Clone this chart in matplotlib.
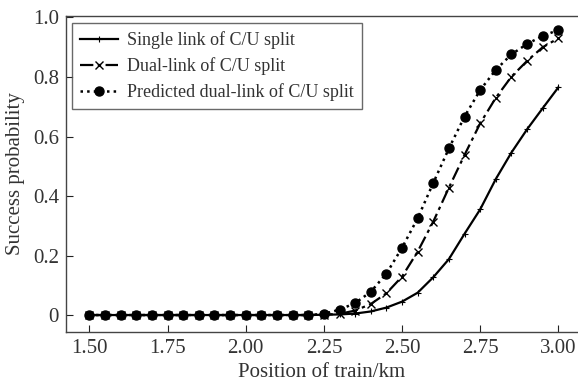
import numpy as np
import matplotlib
matplotlib.use("Agg")
import matplotlib.pyplot as plt

plt.rcParams['font.family'] = ['Liberation Serif', 'DejaVu Serif']
plt.rcParams['mathtext.fontset'] = 'stix'

x = [1.50, 1.55, 1.60, 1.65, 1.70, 1.75, 1.80, 1.85, 1.90, 1.95, 2.00, 2.05,
     2.10, 2.15, 2.20, 2.25, 2.30, 2.35, 2.40, 2.45, 2.50, 2.55, 2.60, 2.65,
     2.70, 2.75, 2.80, 2.85, 2.90, 2.95, 3.00]

single = [0, 0, 0, 0, 0, 0, 0, 0, 0, 0, 0, 0,
          0, 0, 0, 0.001, 0.002, 0.005, 0.012, 0.025, 0.045, 0.075, 0.127, 0.188,
          0.273, 0.355, 0.457, 0.546, 0.624, 0.695, 0.765]

dual = [0, 0, 0, 0, 0, 0, 0, 0, 0, 0, 0, 0,
        0, 0, 0, 0.001, 0.004, 0.015, 0.037, 0.073, 0.129, 0.213, 0.314, 0.428,
        0.538, 0.644, 0.730, 0.801, 0.854, 0.900, 0.930]

predicted = [0, 0, 0, 0, 0, 0, 0, 0, 0, 0, 0, 0,
             0, 0, 0, 0.004, 0.018, 0.040, 0.078, 0.139, 0.226, 0.325, 0.444, 0.560,
             0.667, 0.756, 0.824, 0.876, 0.911, 0.938, 0.958]

labels = ["Single link of C/U split", "Dual-link of C/U split",
          "Predicted dual-link of C/U split"]

xticks = [1.50, 1.75, 2.00, 2.25, 2.50, 2.75, 3.00]
xticklabels = ["1.50", "1.75", "2.00", "2.25", "2.50", "2.75", "3.00"]
yticks = [0, 0.2, 0.4, 0.6, 0.8, 1.0]
yticklabels = ["0", "0.2", "0.4", "0.6", "0.8", "1.0"]

fig = plt.figure(figsize=(5.78, 3.83), dpi=100)
ax_h = (331.7 - 16) / 383
ax_w = 1 - 66 / 578
ax = fig.add_axes([66/578, (383-331.7)/383, ax_w, ax_h])

ax.plot(x, single, '-', color='black', lw=1.6, marker='+', ms=5, mew=0.8,
        label=labels[0])
ax.plot(x, dual, color='black', lw=1.6, marker='x', ms=5.5, mew=1.0,
        linestyle=(0, (6, 2, 1.5, 2)), label=labels[1])
ax.plot(x, predicted, ':', color='black', lw=1.8, marker='o', ms=6.5,
        label=labels[2])

ax.set_xlim(1.425, 3.063)
ax.set_ylim(-0.056, 1.005)
ax.set_xticks(xticks)
ax.set_xticklabels(xticklabels)
ax.set_yticks(yticks)
ax.set_yticklabels(yticklabels)
ax.tick_params(direction='in', length=5, width=0.8, labelsize=15, colors='#222222',
               labelcolor='#333333', pad=5)
ax.spines['right'].set_visible(False)
for s in ['left', 'bottom', 'top']:
    ax.spines[s].set_color('#444444')
    ax.spines[s].set_linewidth(1.0)

ax.set_xlabel("Position of train/km", fontsize=15, color='#333333', labelpad=4)
ax.set_ylabel("Success probability", fontsize=15, color='#333333', labelpad=6)

leg = ax.legend(loc='upper left', bbox_to_anchor=(6/512, 1 - 7/315.7), fontsize=13,
                frameon=True, fancybox=False, handlelength=2.1, borderpad=0.45,
                labelspacing=0.45, handletextpad=0.5, borderaxespad=0)
leg.get_frame().set_edgecolor('#444444')
leg.get_frame().set_linewidth(1.0)
for t in leg.get_texts():
    t.set_color('#333333')

fig.savefig("out.png", dpi=100)
